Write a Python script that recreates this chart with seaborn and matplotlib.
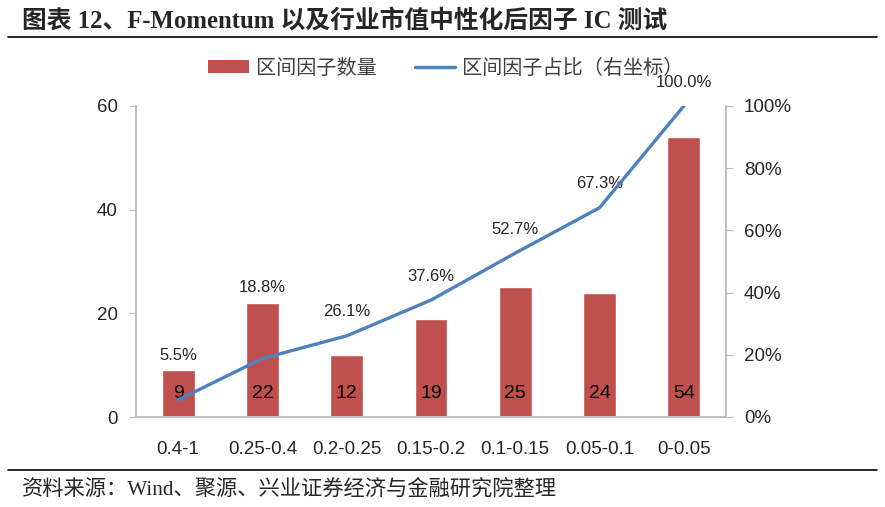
import matplotlib
matplotlib.use("Agg")
import matplotlib.pyplot as plt
from matplotlib.lines import Line2D
from matplotlib.patches import Patch
from matplotlib.ticker import FixedLocator, PercentFormatter
import numpy as np
import pandas as pd
import seaborn as sns

# data
categories = ["0.4-1", "0.25-0.4", "0.2-0.25", "0.15-0.2", "0.1-0.15", "0.05-0.1", "0-0.05"]
factor_counts = [9, 22, 12, 19, 25, 24, 54]
cum_share = [0.055, 0.188, 0.261, 0.376, 0.527, 0.673, 1.000]
left_ticks = [0, 20, 40, 60]
right_ticks = [0.0, 0.2, 0.4, 0.6, 0.8, 1.0]

title_text = "图表 12、F-Momentum 以及行业市值中性化后因子 IC 测试"
source_text = "资料来源：Wind、聚源、兴业证券经济与金融研究院整理"
bar_name = "区间因子数量"
line_name = "区间因子占比（右坐标）"

BAR_COLOR = "#C0504D"
LINE_COLOR = "#4F81BD"
AXIS_COLOR = "#BFBFBF"

sns.set_style("white")
plt.rcParams["font.family"] = ["Liberation Sans", "Noto Sans CJK SC"]

df = pd.DataFrame({"range": categories, "count": factor_counts, "share": cum_share})

fig = plt.figure(figsize=(8.85, 5.07), dpi=100)
ax = fig.add_axes([136 / 885, 1 - 417 / 507, 590 / 885, 311 / 507])

sns.barplot(data=df, x="range", y="count", color=BAR_COLOR, saturation=1,
            width=0.39, ax=ax, zorder=2)
ax.set_ylim(0, 60)
ax.set_xlim(-0.5, len(categories) - 0.5)
ax.yaxis.set_major_locator(FixedLocator(left_ticks))
ax.set_xlabel("")
ax.set_ylabel("")

ax2 = ax.twinx()
sns.lineplot(x=np.arange(len(categories)), y=df["share"], color=LINE_COLOR,
             linewidth=2.4, ax=ax2, sort=False, zorder=3)
ax2.set_ylim(0, 1)
ax2.yaxis.set_major_locator(FixedLocator(right_ticks))
ax2.yaxis.set_major_formatter(PercentFormatter(1.0, decimals=0))
ax2.set_ylabel("")

for a in (ax, ax2):
    for side in ("left", "right", "bottom"):
        a.spines[side].set_color(AXIS_COLOR)
        a.spines[side].set_linewidth(1.2)
    a.spines["top"].set_visible(False)

ax.tick_params(axis="y", length=5, color=AXIS_COLOR, labelsize=13.5, pad=8)
ax2.tick_params(axis="y", length=5, color=AXIS_COLOR, labelsize=13.5, pad=8)
ax.tick_params(axis="x", which="major", length=0, labelsize=13.5, pad=17)
ax.set_xticks(np.arange(len(categories) + 1) - 0.5, minor=True)
ax.tick_params(axis="x", which="minor", length=8, color=AXIS_COLOR, width=1.2)

# count labels inside the bars, near the base
for i, v in enumerate(factor_counts):
    ax.text(i, 4.5, str(v), ha="center", va="center", fontsize=14, color="black", zorder=4)

# share labels above the line, pushed above the bar when the bar is taller
for i, (v, s) in enumerate(zip(factor_counts, cum_share)):
    y = max(s * 60 + 4.6, v + 2.9)
    ax.text(i, y, f"{s * 100:.1f}%", ha="center", va="center", fontsize=12,
            color="#262626", zorder=4)

handles = [Patch(facecolor=BAR_COLOR, edgecolor="none"),
           Line2D([0], [0], color=LINE_COLOR, linewidth=2.5)]
fig.legend(handles, [bar_name, line_name], loc="center", bbox_to_anchor=(446 / 885, 1 - 68 / 507),
           ncol=2, frameon=False, fontsize=14.5, handlelength=2.0, handleheight=0.6,
           handletextpad=0.35, columnspacing=1.9, labelcolor="#404040")

fig.text(22 / 885, 1 - 21 / 507, title_text, ha="left", va="center", fontsize=17.8,
         fontweight="bold", family=["Liberation Serif", "Noto Sans CJK SC"])
fig.add_artist(Line2D([8 / 885, 877 / 885], [1 - 37 / 507, 1 - 37 / 507], color="black", linewidth=1.2))
fig.add_artist(Line2D([8 / 885, 877 / 885], [1 - 470 / 507, 1 - 470 / 507], color="black", linewidth=1.2))
fig.text(22 / 885, 1 - 489 / 507, source_text, ha="left", va="center", fontsize=15.3,
         family=["Liberation Serif", "Noto Sans CJK SC"])

fig.savefig("out.png", dpi=100)
